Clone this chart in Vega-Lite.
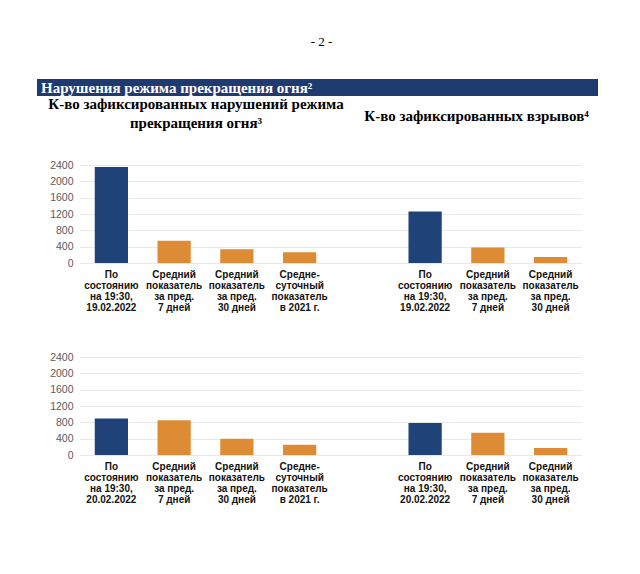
{
  "$schema": "https://vega.github.io/schema/vega-lite/v6.json",
  "background": "white",
  "padding": {"left": 37, "top": 36, "right": 10, "bottom": 10},
  "title": {
    "text": "- 2 -",
    "font": "Liberation Serif",
    "fontSize": 13,
    "fontWeight": "normal",
    "color": "#000000",
    "anchor": "middle",
    "dx": 4,
    "offset": 30
  },
  "datasets": {
    "violations": [
      {"date": "19.02.2022", "label": "По|состоянию|на 19:30,|19.02.2022", "kind": "current", "value": 2350},
      {"date": "19.02.2022", "label": "Средний|показатель|за пред.|7 дней", "kind": "average", "value": 546},
      {"date": "19.02.2022", "label": "Средний|показатель|за пред.|30 дней", "kind": "average", "value": 335},
      {"date": "19.02.2022", "label": "Средне-|суточный|показатель|в 2021 г.", "kind": "average", "value": 262},
      {"date": "20.02.2022", "label": "По|состоянию|на 19:30,|20.02.2022", "kind": "current", "value": 891},
      {"date": "20.02.2022", "label": "Средний|показатель|за пред.|7 дней", "kind": "average", "value": 852},
      {"date": "20.02.2022", "label": "Средний|показатель|за пред.|30 дней", "kind": "average", "value": 397},
      {"date": "20.02.2022", "label": "Средне-|суточный|показатель|в 2021 г.", "kind": "average", "value": 251}
    ],
    "explosions": [
      {"date": "19.02.2022", "label": "По|состоянию|на 19:30,|19.02.2022", "kind": "current", "value": 1264},
      {"date": "19.02.2022", "label": "Средний|показатель|за пред.|7 дней", "kind": "average", "value": 382},
      {"date": "19.02.2022", "label": "Средний|показатель|за пред.|30 дней", "kind": "average", "value": 147},
      {"date": "20.02.2022", "label": "По|состоянию|на 19:30,|20.02.2022", "kind": "current", "value": 786},
      {"date": "20.02.2022", "label": "Средний|показатель|за пред.|7 дней", "kind": "average", "value": 543},
      {"date": "20.02.2022", "label": "Средний|показатель|за пред.|30 дней", "kind": "average", "value": 170}
    ]
  },
  "spacing": 40,
  "vconcat": [
    {
      "spacing": 1,
      "vconcat": [
        {
          "width": 561,
          "height": 17,
          "view": {"fill": "#1F3A6E", "stroke": null},
          "data": {"values": []},
          "mark": "rect",
          "title": {
            "text": "Нарушения режима прекращения огня²",
            "font": "Liberation Serif",
            "fontSize": 15,
            "fontWeight": "bold",
            "color": "#ffffff",
            "anchor": "start",
            "frame": "group",
            "baseline": "top",
            "offset": -17,
            "dx": 4
          }
        },
        {
          "spacing": 0,
          "bounds": "flush",
          "hconcat": [
            {
              "width": 294,
              "height": 98,
              "title": {
                "text": ["К-во зафиксированных нарушений режима", "прекращения огня³"],
                "font": "Liberation Serif",
                "fontSize": 15,
                "fontWeight": "bold",
                "lineHeight": 19,
                "color": "#000000",
                "anchor": "middle",
                "frame": "group",
                "dx": 12,
                "offset": 29
              },
              "data": {"name": "violations"},
              "transform": [{"filter": "datum.date === '19.02.2022'"}],
              "mark": "bar",
              "encoding": {
                "x": {
                  "field": "label", "type": "nominal", "sort": null,
                  "scale": {"range": [43, 294], "paddingInner": 0.47, "paddingOuter": 0.235},
                  "axis": {"title": null, "labelAngle": 0, "labelExpr": "split(datum.label, '|')"}
                },
                "y": {
                  "field": "value", "type": "quantitative",
                  "scale": {"domain": [0, 2400]},
                  "axis": {"title": null, "format": "d", "values": [0, 400, 800, 1200, 1600, 2000, 2400], "offset": -43, "minExtent": 0}
                },
                "color": {
                  "field": "kind", "type": "nominal", "legend": null,
                  "scale": {"domain": ["current", "average"], "range": ["#1F4279", "#DD8B35"]}
                }
              }
            },
            {
              "width": 251,
              "height": 98,
              "title": {
                "text": "К-во зафиксированных взрывов⁴",
                "font": "Liberation Serif",
                "fontSize": 15,
                "fontWeight": "bold",
                "color": "#000000",
                "anchor": "middle",
                "frame": "group",
                "dx": 20,
                "offset": 41
              },
              "data": {"name": "explosions"},
              "transform": [{"filter": "datum.date === '19.02.2022'"}],
              "mark": "bar",
              "encoding": {
                "x": {
                  "field": "label", "type": "nominal", "sort": null,
                  "scale": {"paddingInner": 0.47, "paddingOuter": 0.735, "align": 0.84},
                  "axis": {"title": null, "labelAngle": 0, "labelExpr": "split(datum.label, '|')"}
                },
                "y": {
                  "field": "value", "type": "quantitative",
                  "scale": {"domain": [0, 2400]},
                  "axis": {"title": null, "values": [0, 400, 800, 1200, 1600, 2000, 2400], "labels": false, "minExtent": 0}
                },
                "color": {
                  "field": "kind", "type": "nominal", "legend": null,
                  "scale": {"domain": ["current", "average"], "range": ["#1F4279", "#DD8B35"]}
                }
              }
            }
          ]
        }
      ]
    },
    {
      "spacing": 0,
      "bounds": "flush",
      "hconcat": [
        {
          "width": 294,
          "height": 98,
          "data": {"name": "violations"},
          "transform": [{"filter": "datum.date === '20.02.2022'"}],
          "mark": "bar",
          "encoding": {
            "x": {
              "field": "label", "type": "nominal", "sort": null,
              "scale": {"range": [43, 294], "paddingInner": 0.47, "paddingOuter": 0.235},
              "axis": {"title": null, "labelAngle": 0, "labelExpr": "split(datum.label, '|')"}
            },
            "y": {
              "field": "value", "type": "quantitative",
              "scale": {"domain": [0, 2400]},
              "axis": {"title": null, "format": "d", "values": [0, 400, 800, 1200, 1600, 2000, 2400], "offset": -43, "minExtent": 0}
            },
            "color": {
              "field": "kind", "type": "nominal", "legend": null,
              "scale": {"domain": ["current", "average"], "range": ["#1F4279", "#DD8B35"]}
            }
          }
        },
        {
          "width": 251,
          "height": 98,
          "data": {"name": "explosions"},
          "transform": [{"filter": "datum.date === '20.02.2022'"}],
          "mark": "bar",
          "encoding": {
            "x": {
              "field": "label", "type": "nominal", "sort": null,
              "scale": {"paddingInner": 0.47, "paddingOuter": 0.735, "align": 0.84},
              "axis": {"title": null, "labelAngle": 0, "labelExpr": "split(datum.label, '|')"}
            },
            "y": {
              "field": "value", "type": "quantitative",
              "scale": {"domain": [0, 2400]},
              "axis": {"title": null, "values": [0, 400, 800, 1200, 1600, 2000, 2400], "labels": false, "minExtent": 0}
            },
            "color": {
              "field": "kind", "type": "nominal", "legend": null,
              "scale": {"domain": ["current", "average"], "range": ["#1F4279", "#DD8B35"]}
            }
          }
        }
      ]
    }
  ],
  "config": {
    "view": {"stroke": null},
    "axis": {
      "domain": false,
      "ticks": false,
      "labelFont": "Liberation Sans"
    },
    "axisX": {
      "grid": false,
      "labelFontSize": 10,
      "labelFontWeight": "bold",
      "labelColor": "#111111",
      "labelLineHeight": 11,
      "labelPadding": 6
    },
    "axisY": {
      "grid": true,
      "gridColor": "#e2e2e2",
      "gridWidth": 0.8,
      "labelFontSize": 10.5,
      "labelFontWeight": "normal",
      "labelColor": "#595959",
      "labelPadding": 7
    }
  }
}
